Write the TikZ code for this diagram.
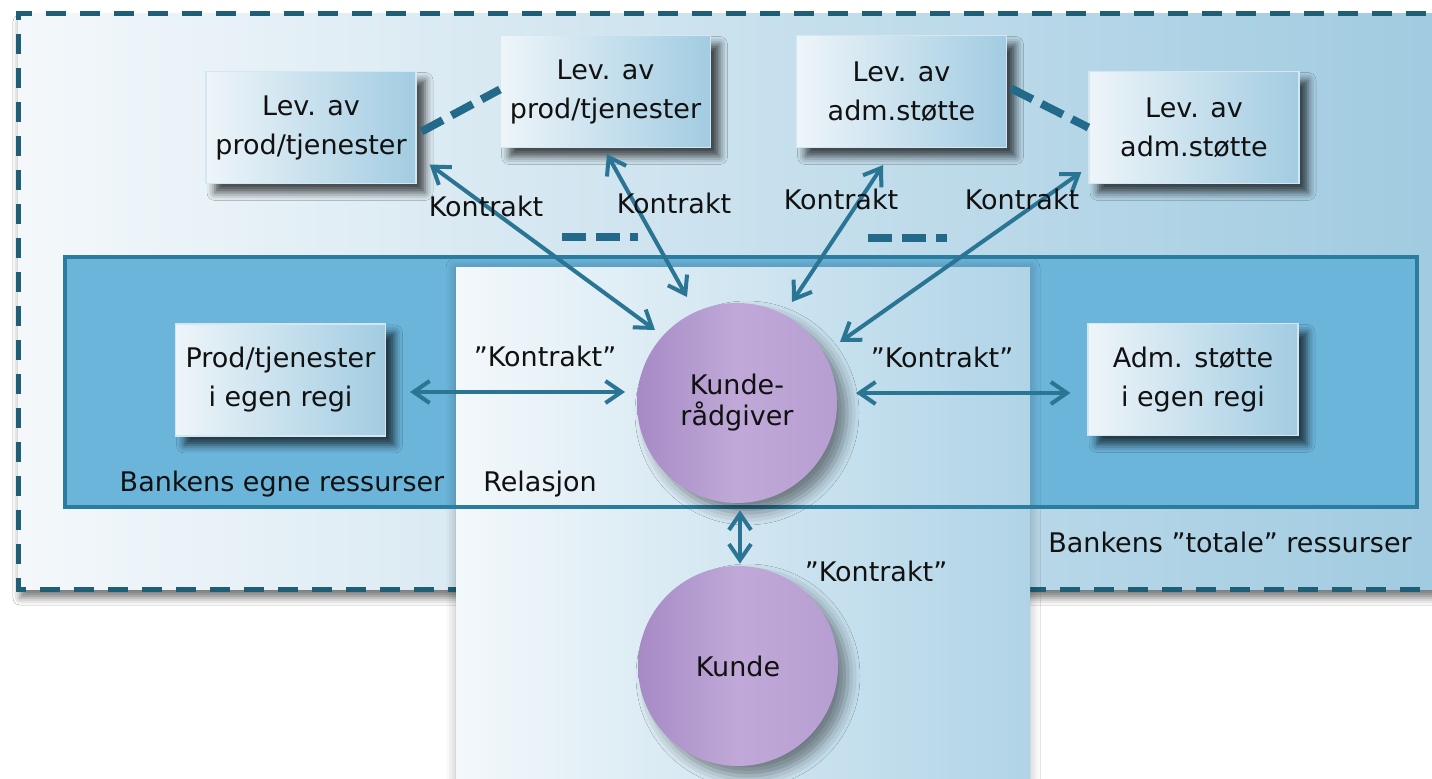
\documentclass[tikz,border=0pt]{standalone}
\usepackage{fontspec}
\setmainfont{DejaVu Sans}
\usetikzlibrary{arrows.meta,shadows.blur,calc}
\definecolor{arrowc}{HTML}{2A7494}
\definecolor{dashc}{HTML}{22698A}
\definecolor{outerb}{HTML}{1F5E74}
\definecolor{outerl}{HTML}{F4F8FB}
\definecolor{outerr}{HTML}{9FCAE0}
\definecolor{innerf}{HTML}{6BB4DA}
\definecolor{innerb}{HTML}{2B7DA0}
\definecolor{cenl}{HTML}{F3F8FB}
\definecolor{cenr}{HTML}{B0D4E7}
\definecolor{boxl}{HTML}{EEF5F9}
\definecolor{boxr}{HTML}{A2CCE2}
\definecolor{boxb}{HTML}{D4E6EF}
\definecolor{circl}{HTML}{A68AC5}
\definecolor{circm}{HTML}{C0A9D8}
\definecolor{circr}{HTML}{B79ED2}
\definecolor{txt}{HTML}{111111}
\newcommand\bxfont{\fontsize{13.5}{19.5}\selectfont}
\newcommand\crfont{\fontsize{13.5}{15.5}\selectfont}
\newcommand\lbfont{\fontsize{13.5}{16}\selectfont}
\tikzset{
  boxn/.style={draw=boxb, line width=0.6pt, left color=boxl, right color=boxr,
    minimum width=105pt, minimum height=56pt, inner sep=0pt, align=center,
    font=\bxfont, text=txt,
    blur shadow={shadow xshift=4.5pt, shadow yshift=-4.5pt, shadow blur radius=4pt, shadow opacity=70}},
  circn/.style={circle, minimum size=100pt, inner sep=0pt, align=center,
    left color=circl, right color=circr, middle color=circm, font=\crfont, text=txt,
    blur shadow={shadow xshift=5pt, shadow yshift=-5pt, shadow blur radius=6pt, shadow opacity=45}},
  conn/.style={draw=arrowc, line width=2pt,
    {Straight Barb[length=8pt,width=11pt]}-{Straight Barb[length=8pt,width=11pt]}},
  dconn/.style={draw=dashc, line width=4pt, dash pattern=on 12pt off 5pt},
  lbl/.style={font=\lbfont, text=txt, inner sep=0pt, anchor=base}
}
\begin{document}
\begin{tikzpicture}[x=0.5pt,y=-0.5pt]
\useasboundingbox (0,0) rectangle (1432,779);
\clip (0,0) rectangle (1432,779);
\fill[white] (0,0) rectangle (1432,779);
% outer area
\fill[left color=outerl, right color=outerr,
  blur shadow={shadow xshift=1pt, shadow yshift=-4pt, shadow blur radius=3.5pt, shadow opacity=50}]
  (18,14) rectangle (1460,590);
\draw[outerb, line width=2.5pt, dash pattern=on 10pt off 7pt] (1460,14) -- (18,14) -- (18,590) -- (1460,590);
% inner area fill
\fill[innerf] (65,257) rectangle (1417,507);
% central relation column
\fill[left color=cenl, right color=cenr,
  blur shadow={shadow xshift=0pt, shadow yshift=0pt, shadow blur radius=5pt, shadow opacity=30}]
  (456,268) rectangle (1030,820);
% inner border
\draw[innerb, line width=2.2pt] (65,257) rectangle (1417,507);
% boxes
\node[boxn] (L1) at (311,127.5) {Lev. av\\prod/tjenester};
\node[boxn] (L2) at (605.5,91.5) {Lev. av\\prod/tjenester};
\node[boxn] (L3) at (901.5,91.5) {Lev. av\\adm.støtte};
\node[boxn] (L4) at (1194,127.5) {Lev. av\\adm.støtte};
\node[boxn] (P) at (280.5,380) {Prod/tjenester\\i egen regi};
\node[boxn] (A) at (1193,379.5) {Adm. støtte\\i egen regi};
% circles
\node[circn] (KR) at (737,403) {Kunde-\\rådgiver};
\node[circn] (K) at (738,666) {Kunde};
% dashed connectors
\draw[dconn] ($(L1.east)+(5,4)$) -- ($(L2.west)+(0,-2)$);
\draw[dconn] ($(L3.east)+(4,-3)$) -- (L4.west);
\draw[dconn] (562,237) -- (638,237);
\draw[dconn] (868,238) -- (947,238);
% contract arrows
\draw[conn] ($(L1.east)+(13,37)$) -- ($(KR.center)+(-82,-73)$);
\draw[conn] ($(L2.south)+(1.5,6)$) -- ($(KR.center)+(-50,-106)$);
\draw[conn] ($(L3.south)+(-18.5,17)$) -- ($(KR.center)+(55,-101)$);
\draw[conn] ($(L4.west)+(-7,44.5)$) -- ($(KR.center)+(103,-61)$);
\draw[conn] ($(P.east)+(24,12)$) -- ($(KR.center)+(-112,-11)$);
\draw[conn] ($(A.west)+(-17,13.5)$) -- ($(KR.center)+(119,-10)$);
\draw[conn] ($(KR.south)+(3,7)$) -- ($(K.north)+(2,-2)$);
% labels
\node[lbl] (k1) at (486,217) {Kontrakt};
\node[lbl] (k2) at (674,214) {Kontrakt};
\node[lbl] (k3) at (841,210) {Kontrakt};
\node[lbl] (k4) at (1022,210) {Kontrakt};
\node[lbl] (q1) at (545,367) {”Kontrakt”};
\node[lbl] (q2) at (942,368) {”Kontrakt”};
\node[lbl] (q3) at (876,582) {”Kontrakt”};
\node[lbl] (be) at (282,492) {Bankens egne ressurser};
\node[lbl] (rel) at (540,492) {Relasjon};
\node[lbl] (bt) at (1230,553) {Bankens ”totale” ressurser};
\end{tikzpicture}
\end{document}
